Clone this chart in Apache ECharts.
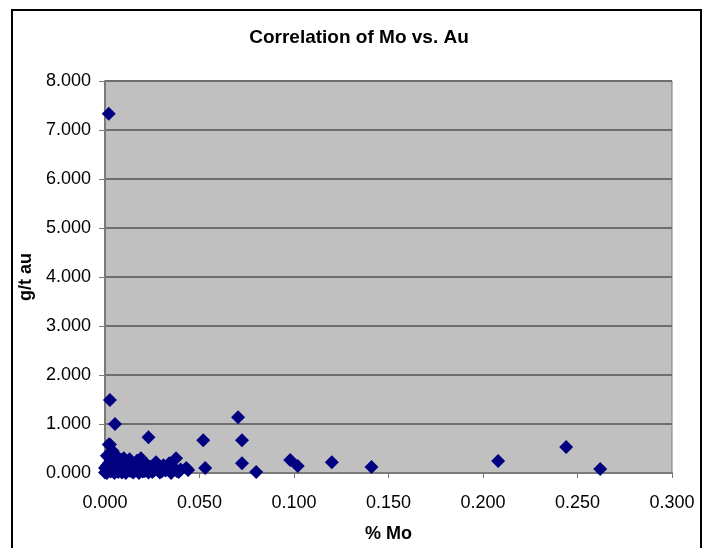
<!DOCTYPE html>
<html>
<head>
<meta charset="utf-8">
<script src="https://cdn.jsdelivr.net/npm/echarts@6/dist/echarts.min.js"></script>
<style>html,body{margin:0;padding:0;background:#fff}#c{width:712px;height:548px}</style>
</head>
<body>
<div id="c"></div>
<script>
var titleText = 'Correlation of Mo vs. Au';
var xName = '% Mo';
var yName = 'g/t au';
// % Mo values
var moValues = [0.002,0.0026,0.0053,0.023,0.052,0.0704,0.0725,0.0725,0.080,0.053,0.043,0.0376,0.0026,
  0.098,0.102,0.120,0.141,0.208,0.244,0.262,
  0.001,0.002,0.003,0.001,0.002,0.003,0.004,0.005,0.006,0.007,0.008,0.009,0.010,0.011,0.012,0.013,0.014,0.015,0.016,0.017,0.018,0.019,0.020,0.021,0.022,0.024,0.025,0.026,0.027,0.028,0.029,0.030,0.031,0.033,0.034,0.035,0.036,0.038,0.040,0.004,0.002,0.003,0.006,0.009,0.017,0.001,0.005,0.012,
  0.000,0.001,0.003,0.005,0.007,0.009,0.011,0.013,0.015,0.018,0.020,0.023,0.026,0.029,0.032,0.035,0.039,0.044,0.004,0.008,0.014,0.019,0.024,0.030,0.000,0.002,0.006,0.010];
// g/t Au values
var auValues = [7.33,1.49,1.0,0.73,0.67,1.14,0.67,0.2,0.02,0.1,0.1,0.3,0.58,
  0.265,0.143,0.22,0.12,0.245,0.53,0.08,
  0.02,0.05,0.1,0.15,0.2,0.25,0.3,0.08,0.15,0.02,0.22,0.12,0.05,0.18,0.08,0.28,0.03,0.15,0.1,0.06,0.22,0.3,0.12,0.04,0.18,0.08,0.02,0.14,0.22,0.06,0.1,0.03,0.16,0.08,0.2,0.05,0.12,0.04,0.07,0.45,0.58,0.38,0.35,0.27,0.25,0.35,0.22,0.2,
  0.01,0.0,0.03,0.0,0.06,0.01,0.0,0.05,0.01,0.0,0.03,0.01,0.05,0.01,0.05,0.0,0.02,0.06,0.12,0.1,0.17,0.09,0.13,0.11,0.1,0.32,0.28,0.3];
var xTicks = {min:0, max:0.3, interval:0.05};
var yTicks = {min:0, max:8, interval:1};

var data = moValues.map(function(v,i){return [v, auValues[i]];});
var font = 'Liberation Sans, Arial, sans-serif';
var chart = echarts.init(document.getElementById('c'), null, {renderer:'canvas'});
chart.setOption({
  animation:false,
  backgroundColor:'#ffffff',
  title:{text:titleText, left:354, top:23, textAlign:'center',
    textStyle:{fontFamily:font, fontSize:19, fontWeight:'bold', color:'#000'}},
  grid:{left:105, right:40, top:81, bottom:75, outerBoundsMode:'none', containLabel:false, show:true, backgroundColor:'#c0c0c0', borderColor:'#7a7a7a', borderWidth:1},
  xAxis:{type:'value', min:xTicks.min, max:xTicks.max, interval:xTicks.interval,
    name:xName, nameLocation:'middle', nameGap:52,
    nameTextStyle:{fontFamily:font, fontSize:18, fontWeight:'bold', color:'#000'},
    axisLine:{show:true, lineStyle:{color:'#7a7a7a', width:2}},
    axisTick:{show:true, length:5, inside:false, lineStyle:{color:'#7a7a7a', width:1}},
    axisLabel:{fontFamily:font, fontSize:18, color:'#000', margin:21, formatter:function(v){return v.toFixed(3);}},
    splitLine:{show:false}},
  yAxis:{type:'value', min:yTicks.min, max:yTicks.max, interval:yTicks.interval,
    name:yName, nameLocation:'middle', nameGap:66, nameRotate:90,
    nameTextStyle:{fontFamily:font, fontSize:18, fontWeight:'bold', color:'#000'},
    axisLine:{show:true, lineStyle:{color:'#7a7a7a', width:2}},
    axisTick:{show:true, length:6, lineStyle:{color:'#7a7a7a', width:1}},
    axisLabel:{fontFamily:font, fontSize:18, color:'#000', margin:14, formatter:function(v){return v.toFixed(3);}},
    splitLine:{show:true, lineStyle:{color:'#6e6e6e', width:2}}},
  graphic:[{type:'rect', shape:{x:12, y:10, width:689, height:560}, style:{fill:'none', stroke:'#000', lineWidth:2}, z:100}],
  series:[{type:'scatter', data:data, symbol:'diamond', symbolSize:14,
    itemStyle:{color:'#000080', opacity:1}}]
});
</script>
</body>
</html>
